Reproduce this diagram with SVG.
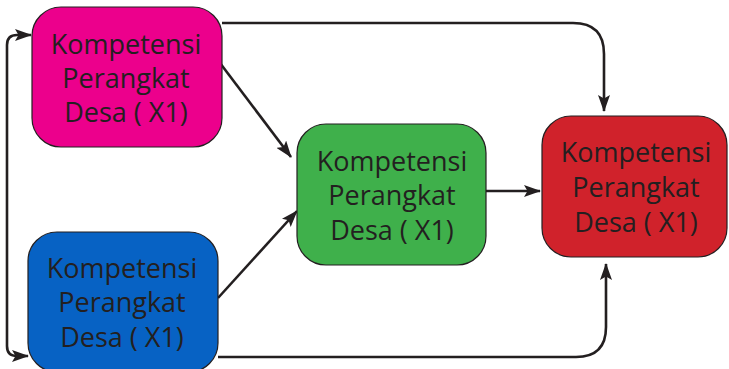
<svg xmlns="http://www.w3.org/2000/svg" width="729" height="369" viewBox="0 0 729 369">
<style>
.box{stroke:#231f20;stroke-width:1.2}
.lbl{font-family:"Open Sans","Noto Sans","DejaVu Sans",sans-serif;font-size:27px;fill:#231f20;text-anchor:middle}
.conn{fill:none;stroke:#231f20;stroke-width:2.6}
</style>
<defs>
<marker id="arr" viewBox="0 0 17 12" refX="16" refY="6" markerWidth="17" markerHeight="12" markerUnits="userSpaceOnUse" orient="auto-start-reverse">
<path d="M0,0 L17,6 L0,12 L3.5,6 z" fill="#231f20"/>
</marker>
</defs>
<rect width="729" height="369" fill="#ffffff"/>
<g id="connectors">
<path class="conn" d="M222,23 H573 Q604,23 604,54 V111" marker-end="url(#arr)"/>
<path class="conn" d="M218,357 H576 Q606,357 606,327 V264" marker-end="url(#arr)"/>
<path class="conn" d="M220,63 L291,157" marker-end="url(#arr)"/>
<path class="conn" d="M218,298 L297,211" marker-end="url(#arr)"/>
<path class="conn" d="M486,191 L540,191" marker-end="url(#arr)"/>
<path class="conn" d="M31,35 H17 Q7,35 7,45 V346 Q7,356 17,356 H28" marker-start="url(#arr)" marker-end="url(#arr)"/>
</g>
<g id="node-pink">
<rect class="box" x="32" y="7" width="190" height="140" rx="29" fill="#ec008c"/>
<text class="lbl" x="126" y="54">Kompetensi</text>
<text class="lbl" x="126" y="88">Perangkat</text>
<text class="lbl" x="126" y="122">Desa ( X1)</text>
</g>
<g id="node-blue">
<rect class="box" x="28" y="232" width="190" height="140" rx="29" fill="#0762c4"/>
<text class="lbl" x="122" y="278">Kompetensi</text>
<text class="lbl" x="122" y="312">Perangkat</text>
<text class="lbl" x="122" y="347">Desa ( X1)</text>
</g>
<g id="node-green">
<rect class="box" x="297" y="124" width="189" height="141" rx="29" fill="#3fb04b"/>
<text class="lbl" x="392" y="171">Kompetensi</text>
<text class="lbl" x="392" y="205">Perangkat</text>
<text class="lbl" x="392" y="240">Desa ( X1)</text>
</g>
<g id="node-red">
<rect class="box" x="542" y="116" width="185" height="141" rx="29" fill="#d0222b"/>
<text class="lbl" x="636" y="162">Kompetensi</text>
<text class="lbl" x="636" y="197">Perangkat</text>
<text class="lbl" x="636" y="232">Desa ( X1)</text>
</g>
</svg>
